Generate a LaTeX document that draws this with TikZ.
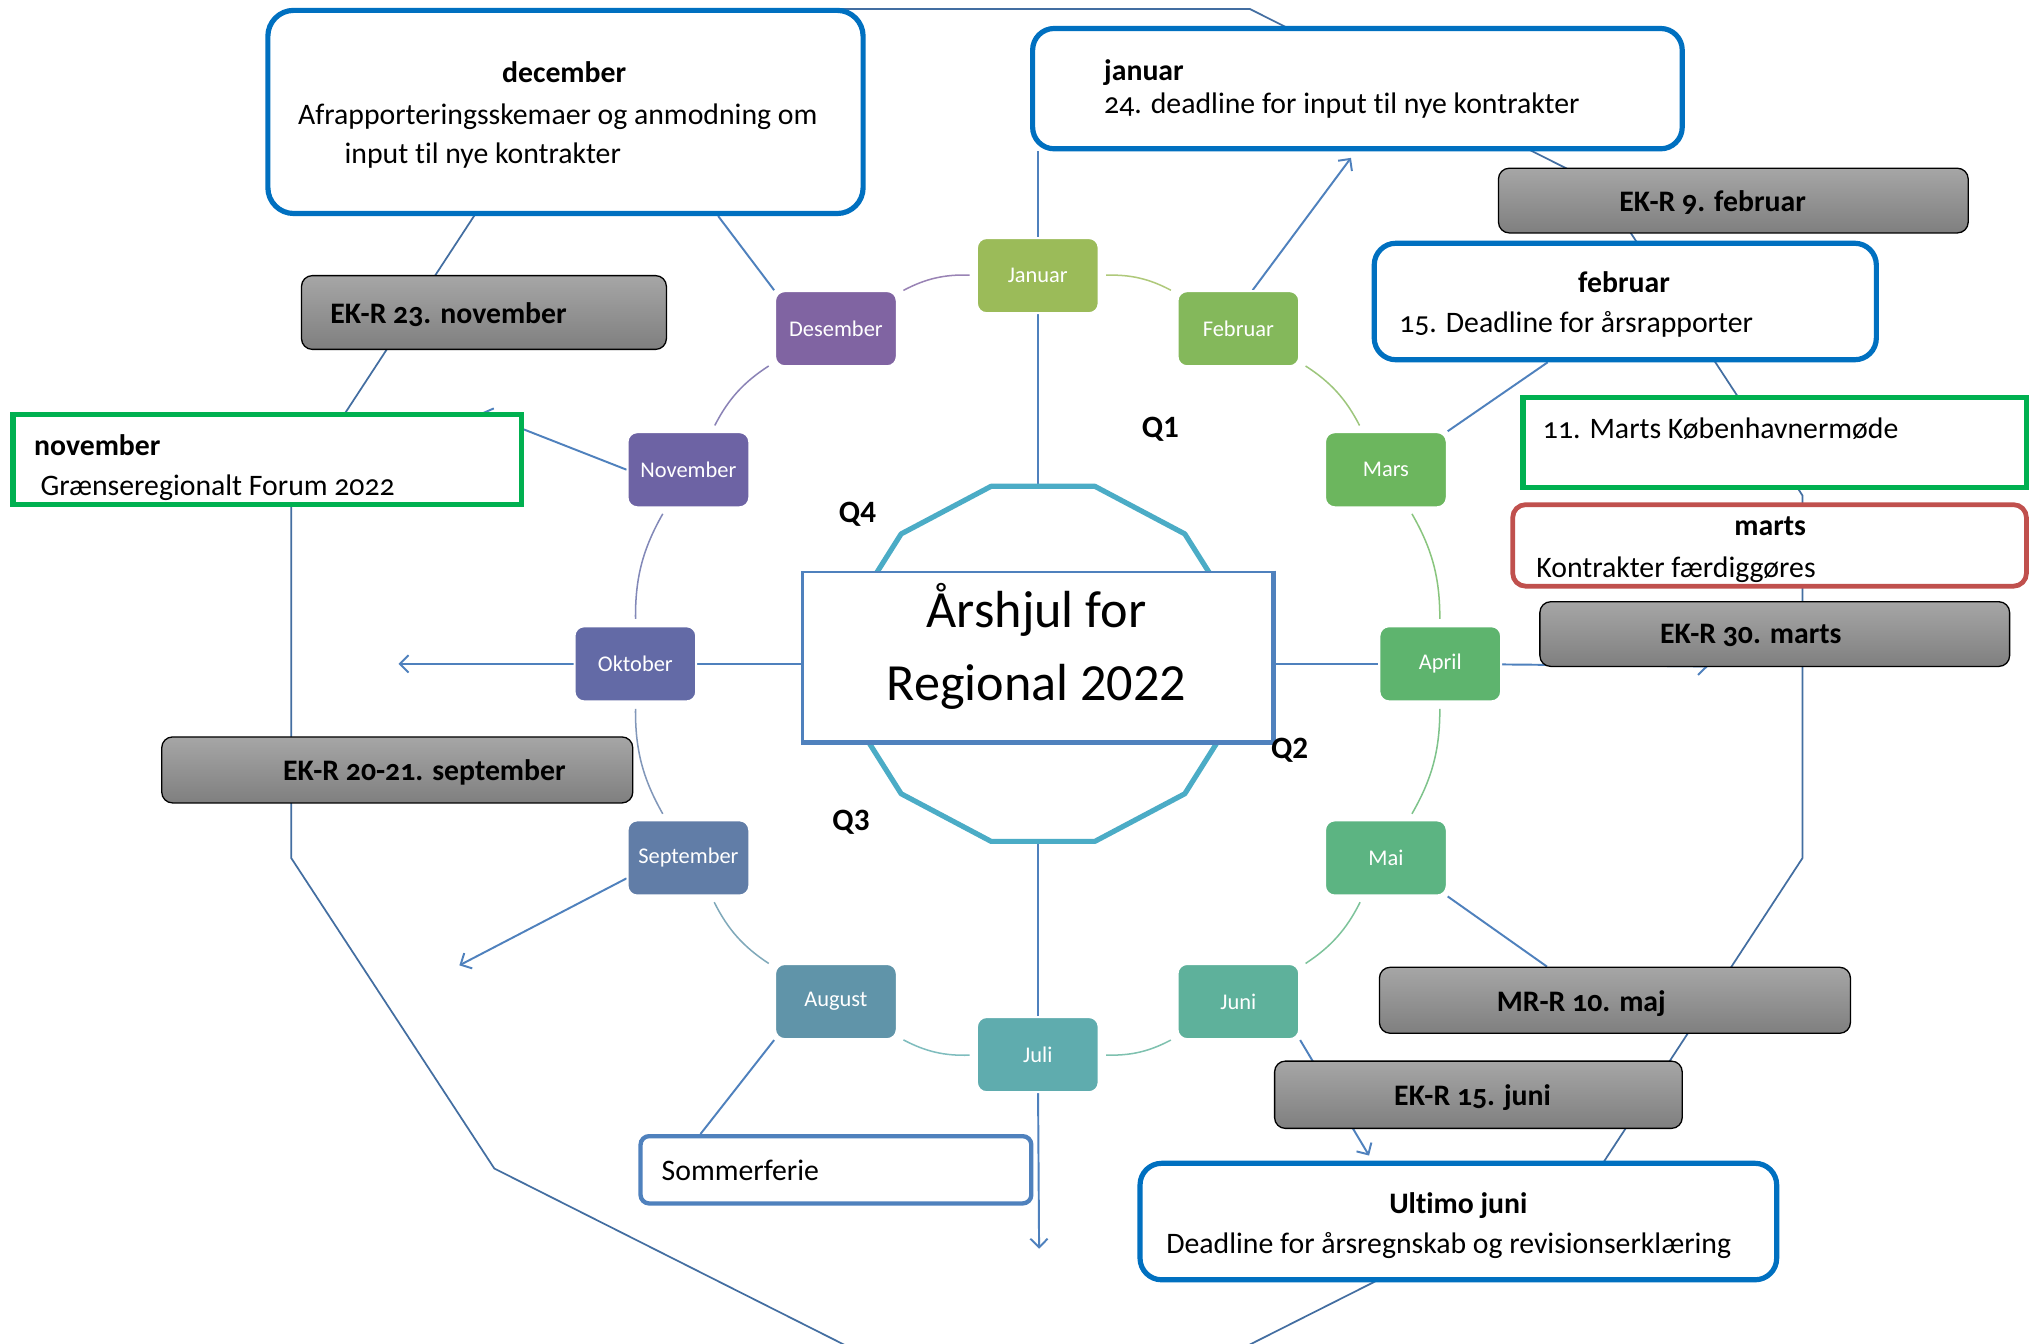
\documentclass[tikz,border=0pt]{standalone}
\usepackage{fontspec}
\setmainfont{Carlito}[Numbers=OldStyle,Ligatures=NoCommon]
\newfontfamily\liningfont{Carlito}[Ligatures=NoCommon]
\usetikzlibrary{arrows.meta,calc,backgrounds}
\pgfdeclarelayer{paper}
\pgfsetlayers{paper,background,main}
\newcommand\pxu{0.6pt}
\definecolor{cJan}{HTML}{9BBB59}
\definecolor{cFeb}{HTML}{84B85B}
\definecolor{cMar}{HTML}{6CB65E}
\definecolor{cApr}{HTML}{5EB46E}
\definecolor{cMai}{HTML}{5CB482}
\definecolor{cJun}{HTML}{5EB19B}
\definecolor{cJul}{HTML}{5FACAE}
\definecolor{cAug}{HTML}{6094A9}
\definecolor{cSep}{HTML}{617DA7}
\definecolor{cOkt}{HTML}{636AA6}
\definecolor{cNov}{HTML}{6D63A4}
\definecolor{cDes}{HTML}{8064A2}
\definecolor{lineblue}{HTML}{4F81BD}
\definecolor{boxblue}{HTML}{0070C0}
\definecolor{boxgreen}{HTML}{00B050}
\definecolor{boxred}{HTML}{C0504D}
\definecolor{octteal}{HTML}{4BACC6}
\definecolor{grayA}{HTML}{A6A6A6}
\definecolor{grayB}{HTML}{7F7F7F}
\tikzset{
  sz/.style 2 args={minimum width={#1*\pxu},minimum height={#2*\pxu}},
  month/.style={rounded corners=4.5pt, draw=white, line width=0.9pt, text=white,
    inner sep=0pt, font=\fontsize{10.4}{12}\selectfont, sz={94}{58}},
  bluebox/.style={draw=boxblue, line width=2.4pt, fill=white, rounded corners=10pt, inner sep=0pt},
  greenbox/.style={draw=boxgreen, line width=2.4pt, fill=white, inner sep=0pt},
  redbox/.style={draw=boxred, line width=2.2pt, fill=white, rounded corners=6pt, inner sep=0pt},
  sombox/.style={draw=lineblue, line width=2pt, fill=white, rounded corners=4pt, inner sep=0pt},
  graybox/.style={draw=black, line width=0.6pt, top color=grayA, bottom color=grayB,
    rounded corners=5pt, inner sep=0pt},
  txt/.style={font=\fontsize{13.8}{16}\selectfont, inner sep=0pt, anchor=base west},
  btxt/.style={font=\fontsize{13.8}{16}\selectfont\bfseries, inner sep=0pt, anchor=base west},
  btxtc/.style={font=\fontsize{13.8}{16}\selectfont\bfseries, inner sep=0pt, anchor=base},
  qlab/.style={font=\liningfont\fontsize{14.4}{16}\selectfont\bfseries, inner sep=0pt, anchor=base west},
  ttl/.style={font=\liningfont\fontsize{24.2}{28}\selectfont, inner sep=0pt, anchor=base},
  conn/.style={draw=lineblue, line width=0.9pt},
  outer/.style={draw=lineblue!85!black, line width=0.8pt},
  arr/.style={-{Straight Barb[length=4pt,width=8pt]}},
  ring/.style={line width=0.7pt, bend left=15, shorten <=3pt, shorten >=3pt},
}
\begin{document}
\begin{tikzpicture}[x=0.6pt,y=-0.6pt]
\begin{pgfonlayer}{paper}
\fill[white] (0,0) rectangle (1568,1038);
\end{pgfonlayer}
\useasboundingbox (0,0) rectangle (1568,1038);

% ---- month boxes
\node[month,fill=cJan] (jan) at (802,213) {Januar};
\node[month,fill=cFeb] (feb) at (957,254) {Februar};
\node[month,fill=cMar] (mar) at (1071,363) {Mars};
\node[month,fill=cApr] (apr) at (1113,513) {April};
\node[month,fill=cMai] (mai) at (1071,663) {Mai};
\node[month,fill=cJun] (jun) at (957,774) {Juni};
\node[month,fill=cJul] (jul) at (802,815) {Juli};
\node[month,fill=cAug] (aug) at (646,774) {August};
\node[month,fill=cSep] (sep) at (532,663) {September};
\node[month,fill=cOkt] (okt) at (491,513) {Oktober};
\node[month,fill=cNov] (nov) at (532,363) {November};
\node[month,fill=cDes] (des) at (646,254) {Desember};

% ---- centre
\node[draw=lineblue, line width=1.3pt, fill=white, sz={363}{131}, inner sep=0pt] (title) at (801.5,507.5) {};
\draw[lineblue, line width=2.2pt] (title.north east) -- (title.south east) -- (title.south west);
\node[ttl] (titleA) at (801,485) {Årshjul for};
\node[ttl] (titleB) at (801,541) {Regional 2022};

\node[qlab] (q1) at (882,338) {Q1};
\node[qlab] (q2) at (982,586) {Q2};
\node[qlab] (q3) at (643,642) {Q3};
\node[qlab] (q4) at (648,404) {Q4};

% ---- annotation boxes
\node[bluebox, rounded corners=12pt, sz={460}{157}] (decbox) at (437,86.5) {};
\node[btxtc] (decA) at (436,64) {december};
\node[txt] (decB) at (230,96) {Afrapporteringsskemaer og anmodning om};
\node[txt] (decC) at (266,126.5) {input til nye kontrakter};

\node[bluebox, sz={502}{93}] (janbox) at (1049,68.5) {};
\node[btxt] (janA) at (853,62) {januar};
\node[txt] (janB) at (853,87.5) {24. deadline for input til nye kontrakter};

\node[graybox, sz={363}{50}] (ekfeb) at (1339.5,155) {};
\node[btxtc] (ekfebT) at (1323.5,163.5) {EK-R 9. februar};

\node[bluebox, sz={388}{90}] (febbox) at (1256,233) {};
\node[btxtc] (febA) at (1255,226) {februar};
\node[txt] (febB) at (1081,257) {15. Deadline for årsrapporter};

\node[greenbox, sz={389}{70}] (m11box) at (1371.5,342) {};
\node[txt] (m11T) at (1192,338.5) {11. Marts Københavnermøde};

\node[redbox, sz={397}{63}] (marbox) at (1367.5,421.5) {};
\node[btxtc] (marA) at (1368,414) {marts};
\node[txt] (marB) at (1187,446) {Kontrakter færdiggøres};

\node[graybox, sz={363}{50}] (ekmar) at (1371.5,490) {};
\node[btxtc] (ekmarT) at (1353,497) {EK-R 30. marts};

\node[graybox, sz={364}{51}] (mrr) at (1248,773) {};
\node[btxtc] (mrrT) at (1222,782) {MR-R 10. maj};

\node[graybox, sz={315}{52}] (ekjun) at (1142.5,846) {};
\node[btxtc] (ekjunT) at (1138,854) {EK-R 15. juni};

\node[bluebox, sz={492}{90}] (ultbox) at (1127,944) {};
\node[btxtc] (ultA) at (1127,937.5) {Ultimo juni};
\node[txt] (ultB) at (901,968.5) {Deadline for årsregnskab og revisionserklæring};

\node[sombox, sz={302}{52}] (som) at (646,904) {};
\node[txt] (somT) at (511,912.5) {Sommerferie};

\node[graybox, sz={364}{51}] (eksep) at (307,595) {};
\node[btxtc] (eksepT) at (328,603.5) {EK-R 20-21. september};

\node[greenbox, sz={393}{70}] (novbox) at (206.5,355) {};
\node[btxt] (novA) at (26,352) {november};
\node[txt] (novB) at (31,383) {Grænseregionalt Forum 2022};

\node[graybox, sz={282}{57}] (eknov) at (374,241.5) {};
\node[btxt] (eknovT) at (255,250) {EK-R 23. november};

% ---- free connector ends
\coordinate (ottop) at (802,376);
\coordinate (otbot) at (802,650);
\coordinate (novend) at (372,319);
\coordinate (oktend) at (308,513);
\coordinate (sepend) at (355,746);
\coordinate (julend) at (803,965);
\coordinate (junend) at (1058,893);
\coordinate (aprend) at (1320,515);
\coordinate (febend) at (1044,122);

\begin{scope}[on background layer]
  % outer frame
  \draw[outer] (650,7) -- (966,7) -- (1236,143) -- (1393,383) -- (1393,663)
     -- (1236,903) -- (960,1042) -- (658,1042) -- (382,903) -- (225,663)
     -- (225,383) -- (382,143) -- cycle;
  % spokes
  \draw[conn] (janbox.south -| jan) -- (ottop);
  \draw[conn] (otbot) -- (jul);
  \draw[conn,arr] (jul) -- (julend);
  \draw[conn] (title.west |- okt) -- (okt);
  \draw[conn,arr] (okt) -- (oktend);
  \draw[conn] (title.east |- apr) -- (apr);
  \draw[conn,arr] (apr) -- (aprend);
  % other connectors
  \draw[conn,arr] ($(feb.north)+(11,0)$) -- (febend);
  \draw[conn] (des.north west) -- ($(decbox.south east)+(-114,0)$);
  \draw[conn,arr] (nov.west) -- (novend);
  \draw[conn] (mar.north east) -- ($(febbox.south west)+(136,0)$);
  \draw[conn] (mai.south east) -- ($(mrr.north west)+(130,0)$);
  \draw[conn,arr] (jun.south east) -- (junend);
  \draw[conn] (aug.south west) -- ($(som.north west)+(48,0)$);
  \draw[conn,arr] ($(sep.south west)+(0,-14)$) -- (sepend);
  % ring arcs
  \draw[ring,draw=cJan!80] (jan) to (feb);
  \draw[ring,draw=cFeb!80] (feb) to (mar);
  \draw[ring,draw=cMar!80] (mar) to (apr);
  \draw[ring,draw=cApr!80] (apr) to (mai);
  \draw[ring,draw=cMai!80] (mai) to (jun);
  \draw[ring,draw=cJun!80] (jun) to (jul);
  \draw[ring,draw=cJul!80] (jul) to (aug);
  \draw[ring,draw=cAug!80] (aug) to (sep);
  \draw[ring,draw=cSep!80] (sep) to (okt);
  \draw[ring,draw=cOkt!80] (okt) to (nov);
  \draw[ring,draw=cNov!80] (nov) to (des);
  \draw[ring,draw=cDes!80] (des) to (jan);
  % inner dodecagon
  \draw[draw=octteal, line width=2.4pt, line join=round]
    (955.7,476.2) -- (915.6,412.6) -- (846.1,375.8) -- (765.9,375.8)
    -- (696.4,412.6) -- (656.3,476.2) -- (656.3,549.8) -- (696.4,613.4)
    -- (765.9,650.2) -- (846.1,650.2) -- (915.6,613.4) -- (955.7,549.8) -- cycle;
\end{scope}
\end{tikzpicture}
\end{document}
